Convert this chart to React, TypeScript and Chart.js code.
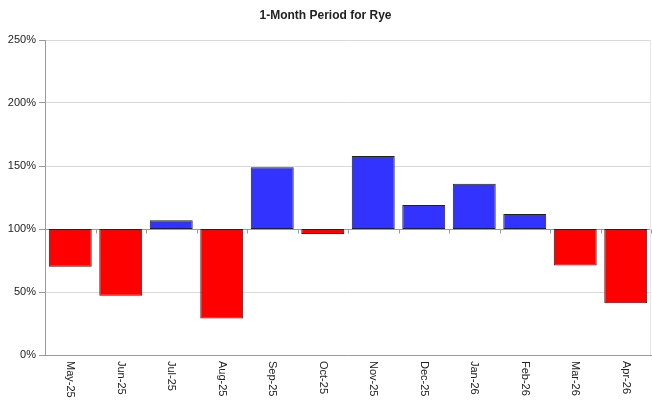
import React, { useEffect, useRef } from "react";
import { Chart, registerables } from "chart.js";

Chart.register(...registerables);

const categories = ["May-25", "Jun-25", "Jul-25", "Aug-25", "Sep-25", "Oct-25", "Nov-25", "Dec-25", "Jan-26", "Feb-26", "Mar-26", "Apr-26"];
const periodValues = [70, 47, 107, 29, 149, 96, 158, 119, 136, 112, 71, 41];
const baseline = 100;
const yTicks = [0, 50, 100, 150, 200, 250];
const titleText = "1-Month Period for Rye";

const FONT = "'Liberation Sans', Arial, sans-serif";

const customPlugin = {
  id: "custom",
  beforeDatasetsDraw(chart: any) {
    const { ctx, chartArea } = chart;
    const x = chart.scales.x;
    const y = chart.scales.y;
    const yb = Math.round(y.getPixelForValue(baseline)) + 0.5;
    ctx.save();
    ctx.strokeStyle = "#9a9a9a";
    ctx.lineWidth = 1;
    ctx.beginPath();
    ctx.moveTo(chartArea.left, yb);
    ctx.lineTo(chartArea.right, yb);
    for (let i = 0; i <= categories.length; i++) {
      const px = Math.round(x.getPixelForValue(i - 0.5)) + 0.5;
      ctx.moveTo(px, yb);
      ctx.lineTo(px, yb + 4);
    }
    ctx.stroke();
    ctx.strokeStyle = "#e6e6e6";
    ctx.beginPath();
    ctx.moveTo(Math.round(chartArea.right) - 0.5, chartArea.top);
    ctx.lineTo(Math.round(chartArea.right) - 0.5, chartArea.bottom);
    ctx.stroke();
    ctx.restore();
  },
  afterDraw(chart: any) {
    const { ctx, chartArea } = chart;
    const x = chart.scales.x;
    ctx.save();
    ctx.font = `11px ${FONT}`;
    ctx.fillStyle = "#222";
    ctx.textAlign = "left";
    ctx.textBaseline = "middle";
    categories.forEach((lab, i) => {
      const px = x.getPixelForValue(i);
      ctx.save();
      ctx.translate(px, chartArea.bottom + 6);
      ctx.rotate(Math.PI / 2);
      ctx.fillText(lab, 0, 0);
      ctx.restore();
    });
    ctx.restore();
  },
};

export default function App() {
  const ref = useRef<HTMLCanvasElement>(null);
  useEffect(() => {
    if (!ref.current) return;
    const chart = new Chart(ref.current, {
      type: "bar",
      data: {
        labels: categories,
        datasets: [
          {
            data: periodValues.map((v) => [baseline, v]) as any,
            backgroundColor: periodValues.map((v) => (v < baseline ? "#ff0000" : "#3333ff")),
            borderColor: "#222222",
            borderWidth: 1,
            borderSkipped: false,
            barPercentage: 0.85,
            categoryPercentage: 1,
          },
        ],
      },
      options: {
        animation: false,
        responsive: true,
        maintainAspectRatio: false,
        layout: { padding: { left: 0, right: 1, top: 0, bottom: 0 } },
        plugins: {
          legend: { display: false },
          tooltip: { enabled: false },
          title: {
            display: true,
            text: titleText,
            color: "#222",
            font: { family: FONT, size: 12, weight: "bold" },
            padding: { top: 8, bottom: 17.6 },
          },
        },
        scales: {
          x: {
            type: "category",
            offset: true,
            grid: { display: false, drawTicks: false },
            border: { display: true, color: "#9a9a9a", width: 1 },
            ticks: { display: false },
            afterFit: (s: any) => {
              s.height = 48;
            },
          },
          y: {
            min: 0,
            max: 250,
            afterBuildTicks: (s: any) => {
              s.ticks = yTicks.map((v) => ({ value: v }));
            },
            grid: { color: "#d9d9d9", tickLength: 6, drawTicks: true, tickColor: "#9a9a9a" },
            border: { display: true, color: "#9a9a9a", width: 1 },
            ticks: {
              color: "#222",
              font: { family: FONT, size: 11 },
              padding: 3,
              callback: (v: any) => `${v}%`,
            },
            afterFit: (s: any) => {
              s.width = 45;
            },
          },
        },
      },
      plugins: [customPlugin],
    });
    return () => chart.destroy();
  }, []);
  return (
    <div style={{ position: "fixed", left: 0, top: 0, width: 652, height: 403, background: "#fff" }}>
      <canvas ref={ref} />
    </div>
  );
}
